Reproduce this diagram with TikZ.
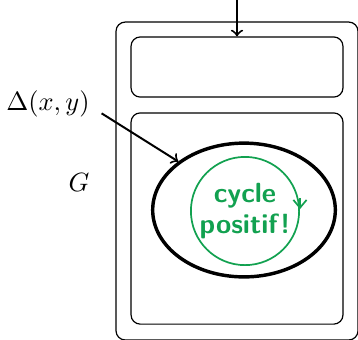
\documentclass[tikz,border=0pt]{standalone}
\usepackage{amsmath}
\usetikzlibrary{arrows.meta, shapes.geometric, positioning}
\definecolor{vertcycle}{HTML}{12A150}

\begin{document}
\begin{tikzpicture}[
  x=0.0133cm, y=-0.0133cm,
  cadre/.style={
    rectangle, rounded corners=3.5pt,
    draw, line width=0.45pt,
    inner sep=0pt
  },
  arr/.style={-to, line width=0.75pt},
  bord/.style={ellipse, draw, line width=1.3pt,
    minimum width=2.43cm, minimum height=1.78cm},
  cyc/.style={circle, draw=vertcycle, line width=0.65pt,
    text=vertcycle, font=\fontsize{10.5}{11.4}\selectfont\bfseries\sffamily,
    align=center, minimum size=1.44cm, inner sep=0pt}
]
  \useasboundingbox (0,0) rectangle (358,339);
  % grand cadre et ses deux cases
  \node[cadre, minimum width=3.22cm, minimum height=4.23cm] (ext) at (237,181) {};
  \node[cadre, minimum width=2.82cm, minimum height=0.80cm] (haut) at (237,67) {};
  \node[cadre, minimum width=2.82cm, minimum height=2.81cm] (bas) at (237,218.5) {};
  % la composante et le cycle
  \node[bord] (ell) at (244,210) {};
  \node[cyc] (cyc) at (245,211) {cycle\\positif!};
  \draw[vertcycle, line width=0.65pt, -{Straight Barb[length=3pt,width=5pt]}]
    ([yshift=5pt]cyc.east) -- ([yshift=0.7pt]cyc.east);
  % etiquettes
  \node (delta) at (48,104) {$\Delta(x,y)$};
  \node (G) at (79,182) {$G$};
  \coordinate (entree) at (237,0);
  \draw[arr] (entree) -- (haut);
  \draw[arr] ([xshift=1pt,yshift=5pt]delta.south east) -- (ell.north west);
\end{tikzpicture}
\end{document}
